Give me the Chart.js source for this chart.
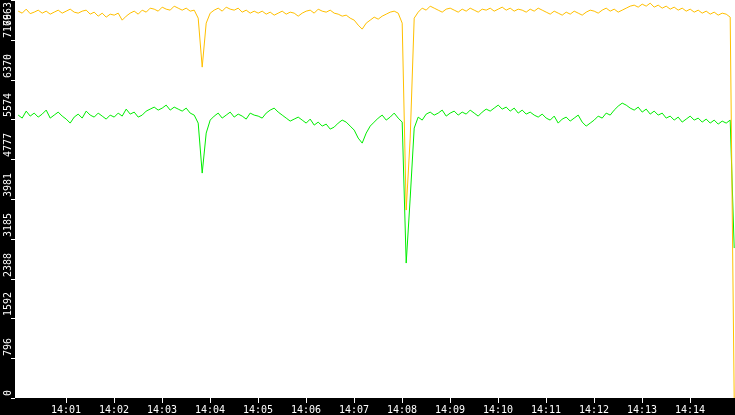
<!DOCTYPE html>
<html>
<head>
<meta charset="utf-8">
<script src="https://cdn.jsdelivr.net/npm/chart.js@4"></script>
<style>
  html, body { margin: 0; padding: 0; background: #000; }
  #wrap { width: 735px; height: 415px; }
</style>
</head>
<body>
<div id="wrap"><canvas id="chart" width="735" height="415"></canvas></div>
<script>
// Time axis in seconds after 14:00, one sample every 5 s
const yTicks = [0, 796, 1592, 2388, 3185, 3981, 4777, 5574, 6370, 7166, 7963];
const xTickLabels = ['14:01', '14:02', '14:03', '14:04', '14:05', '14:06', '14:07',
    '14:08', '14:09', '14:10', '14:11', '14:12', '14:13', '14:14'];

const yellowSeries = [
    7740,7700,7780,7690,7720,7760,7700,7740,7680,7720,7760,7700,
    7740,7780,7720,7700,7740,7760,7680,7720,7640,7700,7620,7680,
    7660,7700,7560,7640,7700,7740,7680,7760,7720,7800,7780,7740,
    7820,7780,7760,7840,7800,7760,7800,7740,7760,7600,6620,7500,
    7700,7760,7800,7740,7820,7780,7760,7800,7720,7760,7700,7740,
    7700,7740,7680,7720,7660,7700,7740,7680,7720,7700,7640,7700,
    7740,7760,7700,7780,7740,7720,7760,7700,7680,7640,7660,7600,
    7560,7460,7380,7500,7560,7620,7580,7640,7680,7720,7740,7700,
    7500,3760,5200,7600,7720,7800,7760,7840,7800,7760,7720,7780,
    7800,7760,7720,7780,7740,7800,7760,7720,7780,7760,7800,7740,
    7780,7820,7760,7800,7740,7780,7760,7720,7780,7740,7800,7760,
    7720,7680,7740,7700,7660,7720,7680,7740,7700,7660,7720,7760,
    7740,7700,7760,7800,7740,7780,7720,7760,7800,7840,7860,7820,
    7880,7840,7900,7820,7860,7800,7840,7780,7820,7760,7800,7740,
    7780,7720,7760,7700,7740,7680,7720,7660,7700,7680,7620,0
];

const greenSeries = [
    5660,5600,5740,5640,5700,5620,5680,5760,5600,5660,5720,5640,
    5580,5500,5620,5680,5600,5740,5660,5620,5700,5640,5580,5660,
    5620,5700,5640,5780,5680,5720,5620,5660,5740,5780,5820,5760,
    5800,5860,5760,5820,5780,5740,5800,5700,5660,5500,4500,5300,
    5560,5640,5700,5600,5660,5720,5620,5680,5640,5580,5700,5660,
    5640,5600,5700,5760,5800,5720,5660,5600,5540,5580,5620,5560,
    5500,5580,5460,5520,5440,5480,5380,5420,5500,5560,5520,5440,
    5360,5200,5100,5300,5440,5520,5600,5660,5560,5620,5700,5600,
    5520,2700,4000,5400,5620,5560,5680,5720,5660,5700,5760,5640,
    5700,5740,5660,5720,5680,5760,5700,5640,5720,5780,5740,5800,
    5860,5780,5820,5740,5800,5700,5760,5680,5720,5660,5620,5680,
    5600,5560,5640,5500,5580,5620,5540,5600,5660,5520,5440,5500,
    5560,5640,5600,5700,5660,5760,5840,5900,5860,5800,5760,5820,
    5720,5780,5680,5740,5660,5700,5600,5640,5560,5620,5520,5580,
    5640,5560,5600,5520,5580,5500,5560,5480,5540,5500,5560,3000
];

const seconds = yellowSeries.map((_, i) => i * 5);

// Black axis strips, ticks and labels drawn from the chart's own scales
const axisStrips = {
    id: 'axisStrips',
    beforeDraw(chart) {
        const { ctx, chartArea: a } = chart;
        ctx.save();
        ctx.fillStyle = '#fff';
        ctx.fillRect(a.left, a.top, a.right - a.left, a.bottom - a.top);
        ctx.restore();
    },
    afterDraw(chart) {
        const { ctx, chartArea: a, scales } = chart;
        ctx.save();
        ctx.fillStyle = '#000';
        ctx.fillRect(0, 0, a.left, chart.height);
        ctx.fillRect(0, a.bottom, chart.width, chart.height - a.bottom);
        ctx.fillStyle = '#fff';
        ctx.strokeStyle = '#fff';
        ctx.lineWidth = 1;
        ctx.font = '10px "DejaVu Sans Mono"';

        yTicks.forEach(v => {
            const y = Math.round(scales.y.getPixelForValue(v));
            ctx.beginPath();
            ctx.moveTo(a.left - 4, y + 0.5);
            ctx.lineTo(a.left, y + 0.5);
            ctx.stroke();
            const w = ctx.measureText(String(v)).width;
            // keep the top label inside the canvas
            const start = Math.max(y - 2, w + 2);
            ctx.save();
            ctx.translate(11, start);
            ctx.rotate(-Math.PI / 2);
            ctx.textAlign = 'left';
            ctx.textBaseline = 'alphabetic';
            ctx.fillText(String(v), 0, 0);
            ctx.restore();
        });

        xTickLabels.forEach((label, i) => {
            const x = Math.round(scales.x.getPixelForValue((i + 1) * 60));
            ctx.beginPath();
            ctx.moveTo(x + 0.5, a.bottom);
            ctx.lineTo(x + 0.5, a.bottom + 5);
            ctx.stroke();
            ctx.textAlign = 'center';
            ctx.textBaseline = 'alphabetic';
            ctx.fillText(label, x, chart.height - 2);
        });
        ctx.restore();
    }
};

new Chart(document.getElementById('chart'), {
    type: 'line',
    data: {
        labels: seconds,
        datasets: [{
            data: yellowSeries.map((v, i) => ({ x: seconds[i], y: v })),
            borderColor: '#ffc000',
            borderWidth: 1,
            pointRadius: 0,
            tension: 0
        }, {
            data: greenSeries.map((v, i) => ({ x: seconds[i], y: v })),
            borderColor: '#00ee00',
            borderWidth: 1,
            pointRadius: 0,
            tension: 0
        }]
    },
    options: {
        responsive: false,
        animation: false,
        layout: { padding: { left: 15, bottom: 17, top: 0, right: 0 } },
        plugins: { legend: { display: false }, tooltip: { enabled: false } },
        scales: {
            x: { type: 'linear', min: -4, max: 896, display: false },
            y: { min: 0, max: 7963, display: false }
        }
    },
    plugins: [axisStrips]
});
</script>
</body>
</html>
